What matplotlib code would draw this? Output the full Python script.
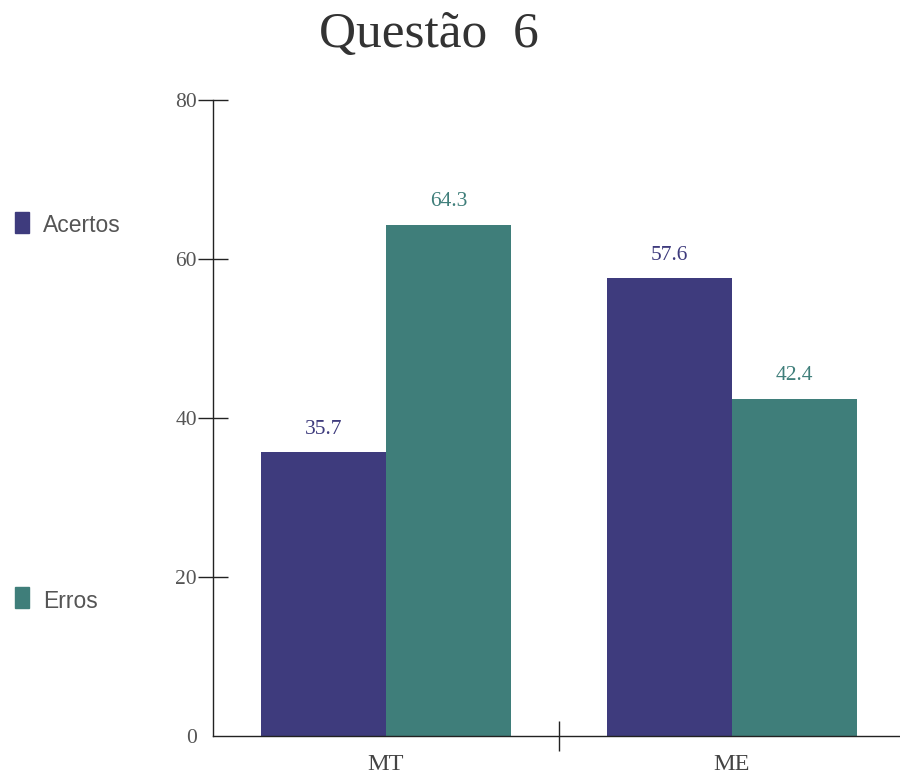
import matplotlib.pyplot as plt
import numpy as np

categories = ['MT', 'ME']
acertos = [35.7, 57.6]
erros = [64.3, 42.4]
yticks = [0, 20, 40, 60, 80]

c_acertos = '#3e3b7d'
c_erros = '#3f7e7a'

fig = plt.figure(figsize=(9, 7.79), dpi=100)
ax = fig.add_axes([213 / 900, 1 - 736 / 779, 692 / 900, 636 / 779])

x = np.arange(len(categories))
w = 0.361
ax.bar(x - w / 2, acertos, w, color=c_acertos)
ax.bar(x + w / 2, erros, w, color=c_erros)

# value labels above the bars
for xi, v in zip(x - w / 2, acertos):
    ax.text(xi, v + 2.9, f'{v}', ha='center', va='center',
            fontname='Liberation Serif', fontsize=15.5, color=c_acertos)
for xi, v in zip(x + w / 2, erros):
    ax.text(xi, v + 2.9, f'{v}', ha='center', va='center',
            fontname='Liberation Serif', fontsize=15.5, color=c_erros)

ax.set_xlim(-0.5, 1.5)
ax.set_ylim(0, 80)
ax.set_yticks(yticks)
ax.set_yticklabels([str(t) for t in yticks], fontname='Liberation Serif',
                   fontsize=15.5, color='#555555')
ax.yaxis.get_major_ticks()[0].tick1line.set_visible(False)
ax.set_xticks([0.5])
ax.set_xticklabels([''])
ax.set_xticks(x, minor=True)
ax.set_xticklabels(categories, minor=True, fontname='Liberation Serif',
                   fontsize=17.5, color='#444444')
ax.tick_params(axis='x', which='minor', length=0, pad=13)
ax.tick_params(axis='x', which='major', direction='inout', length=21, width=1, color='#222222')
ax.tick_params(axis='y', direction='inout', length=21, width=1, color='#222222', pad=1)

for s in ['top', 'right']:
    ax.spines[s].set_visible(False)
for s in ['left', 'bottom']:
    ax.spines[s].set_color('#222222')
    ax.spines[s].set_linewidth(1)

fig.text(429 / 900, 1 - 47 / 779, 'Questão  6', ha='center', va='baseline',
         fontname='Liberation Serif', fontsize=37, color='#333333')

# legend on the left
fig.patches.append(plt.Rectangle((15 / 900, 1 - 233 / 779), 14 / 900, 21 / 779,
                                 transform=fig.transFigure, color=c_acertos))
fig.text(43 / 900, 1 - 226 / 779, 'Acertos', va='center',
         fontname='Liberation Sans', fontsize=16.5, color='#555555')
fig.patches.append(plt.Rectangle((15 / 900, 1 - 608 / 779), 14 / 900, 21 / 779,
                                 transform=fig.transFigure, color=c_erros))
fig.text(43 / 900, 1 - 602 / 779, 'Erros', va='center',
         fontname='Liberation Sans', fontsize=16.5, color='#555555')

fig.savefig('out.png', dpi=100)
